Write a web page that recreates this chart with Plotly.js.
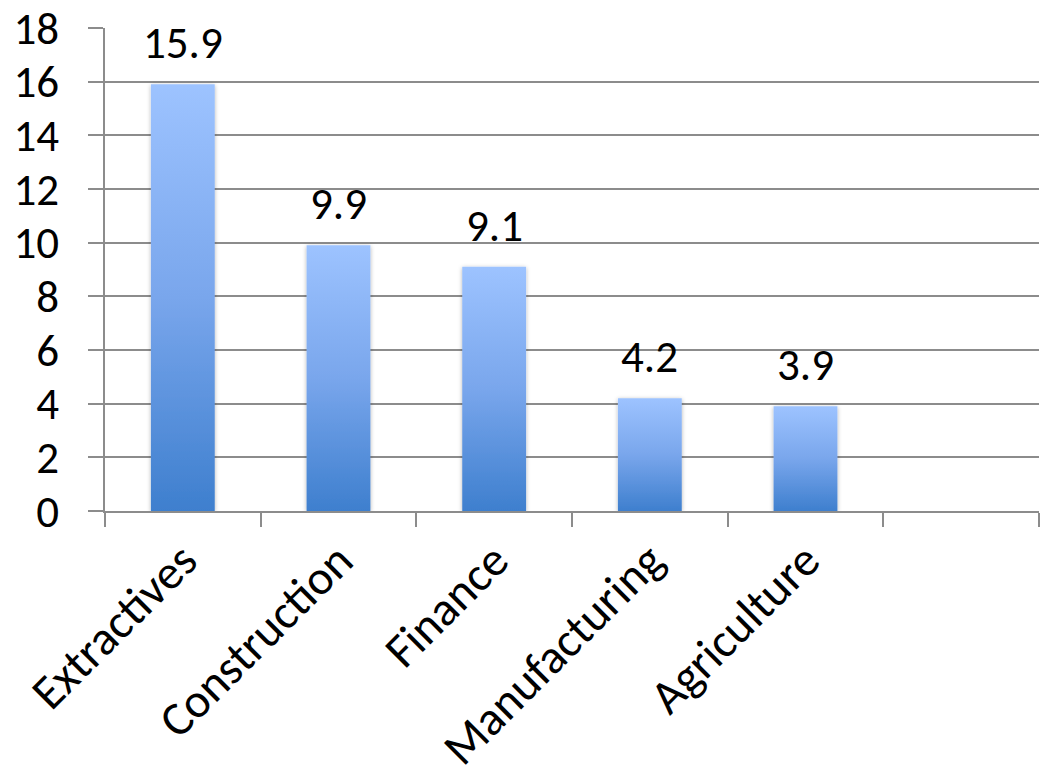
<!DOCTYPE html>
<html>
<head>
<meta charset="utf-8">
<script src="https://cdn.plot.ly/plotly-3.0.1.min.js"></script>
<style>
  html, body { margin: 0; padding: 0; background: #ffffff; }
  #chart { width: 1043px; height: 778px; }
</style>
</head>
<body>
<div id="chart"></div>
<script>
// Sectors and their values
var categories = ["Extractives", "Construction", "Finance", "Manufacturing", "Agriculture"];
var values = [15.9, 9.9, 9.1, 4.2, 3.9];
var yTicks = [0, 2, 4, 6, 8, 10, 12, 14, 16, 18];

var FONT = "Carlito, Calibri, Lato, 'Open Sans', sans-serif";
var GRID = "#8c8c8c";

var positions = categories.map(function (_, i) { return i; });

var trace = {
  type: "bar",
  x: positions,
  y: values,
  width: 0.41,
  marker: { color: "#6f9fe6", line: { width: 0 } },
  hoverinfo: "skip"
};

// value labels above each bar
var annotations = values.map(function (v, i) {
  return {
    x: i, y: v, xref: "x", yref: "y",
    text: v.toFixed(1),
    showarrow: false,
    yanchor: "bottom",
    yshift: 12,
    font: { family: FONT, size: 45, weight: 300, color: "#000000" }
  };
});

var layout = {
  width: 1043,
  height: 778,
  margin: { l: 105, r: 4, t: 28, b: 267 },
  paper_bgcolor: "#ffffff",
  plot_bgcolor: "#ffffff",
  showlegend: false,
  font: { family: FONT, size: 44, color: "#000000" },
  xaxis: {
    type: "linear",
    range: [-0.5, categories.length + 0.5],
    tickmode: "array",
    tickvals: positions,
    ticktext: categories,
    tickangle: -45,
    ticks: "",
    showgrid: false,
    zeroline: false,
    showline: true,
    linecolor: GRID,
    linewidth: 2,
    tickfont: { family: FONT, size: 48, weight: 300, color: "#000000" },
    minor: {
      tickmode: "linear",
      tick0: -0.5,
      dtick: 1,
      ticks: "outside",
      ticklen: 14,
      tickwidth: 2,
      tickcolor: GRID,
      showgrid: false
    },
    fixedrange: true
  },
  yaxis: {
    range: [0, 18],
    tickmode: "array",
    tickvals: yTicks,
    ticks: "outside",
    ticklen: 15,
    tickwidth: 2,
    tickcolor: GRID,
    showgrid: true,
    gridcolor: GRID,
    gridwidth: 2,
    zeroline: false,
    showline: true,
    linecolor: GRID,
    linewidth: 2,
    ticklabelstandoff: 20,
    tickfont: { family: FONT, size: 45, weight: 300, color: "#000000" },
    fixedrange: true
  },
  annotations: annotations
};

Plotly.newPlot("chart", [trace], layout, { displayModeBar: false, staticPlot: true }).then(function (gd) {
  // vertical gradient fill and soft shadow for the bars
  var svgNS = "http://www.w3.org/2000/svg";
  var svg = gd.querySelector(".main-svg");
  var defs = svg.querySelector("defs") || svg.insertBefore(document.createElementNS(svgNS, "defs"), svg.firstChild);

  var grad = document.createElementNS(svgNS, "linearGradient");
  grad.setAttribute("id", "barGradient");
  grad.setAttribute("x1", "0"); grad.setAttribute("y1", "0");
  grad.setAttribute("x2", "0"); grad.setAttribute("y2", "1");
  [["0%", "#9dc3ff"], ["50%", "#79a6ec"], ["100%", "#3e7fce"]].forEach(function (s) {
    var stop = document.createElementNS(svgNS, "stop");
    stop.setAttribute("offset", s[0]);
    stop.setAttribute("stop-color", s[1]);
    grad.appendChild(stop);
  });
  defs.appendChild(grad);

  var filter = document.createElementNS(svgNS, "filter");
  filter.setAttribute("id", "barShadow");
  filter.setAttribute("x", "-20%"); filter.setAttribute("y", "-5%");
  filter.setAttribute("width", "140%"); filter.setAttribute("height", "110%");
  var shadow = document.createElementNS(svgNS, "feDropShadow");
  shadow.setAttribute("dx", "0"); shadow.setAttribute("dy", "1");
  shadow.setAttribute("stdDeviation", "2");
  shadow.setAttribute("flood-color", "#000000");
  shadow.setAttribute("flood-opacity", "0.3");
  filter.appendChild(shadow);
  defs.appendChild(filter);

  gd.querySelectorAll(".barlayer .point path").forEach(function (p) {
    p.style.fill = "url(#barGradient)";
    p.style.fillOpacity = "1";
    p.setAttribute("filter", "url(#barShadow)");
  });
});
</script>
</body>
</html>
